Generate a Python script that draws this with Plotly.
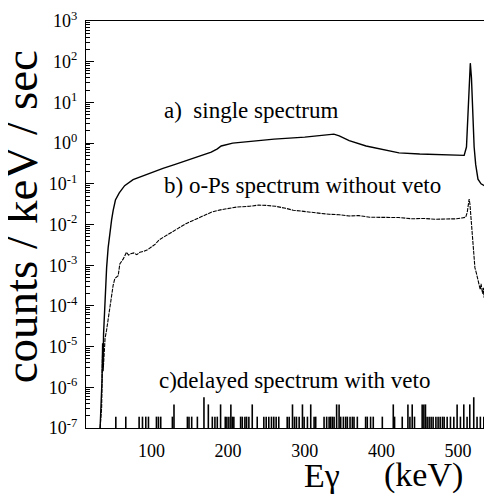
import plotly.graph_objects as go

# a) single spectrum (E in keV, counts/keV/sec)
single_E = [33, 34.5, 35.5, 36.3, 36.8, 37.5, 38.5, 39.5, 40.5, 41.5, 43.5, 45.7, 48, 50, 53, 58,
            65, 76, 90, 98, 115, 130, 145, 163, 178, 186, 191, 206, 228, 260, 300, 332, 338,
            345, 358, 380, 401.6, 423, 450, 488, 503.6, 508, 511, 513, 514.5, 516, 517.5, 519,
            521, 523, 526, 530, 536, 543]
single_V = [1e-7, 4e-7, 1.5e-6, 1.2e-5, 3e-6, 2e-5, 6e-5, 1.4e-4, 4e-4, 8.7e-4, 2.7e-3, 6.9e-3,
            1.3e-2, 2.2e-2, 4.0e-2, 6.0e-2, 9.0e-2, 0.126, 0.16, 0.186, 0.24, 0.295, 0.37, 0.47,
            0.6, 0.72, 0.85, 1.0, 1.1, 1.25, 1.4, 1.62, 1.66, 1.5, 1.15, 0.85, 0.69, 0.575, 0.54,
            0.525, 0.5, 0.5, 0.8, 5, 45, 92, 40, 5, 0.8, 0.3, 0.13, 0.1, 0.087, 0.072]

# b) o-Ps spectrum without veto
ops_E = [33, 35, 36, 36.5, 37, 38, 39.5, 41.4, 43.5, 46, 48, 50, 52.2, 54, 56.6, 58.7, 60.9, 63,
         65, 67.4, 70, 73, 77, 81, 85, 90, 95, 100, 105, 110, 118, 125, 137, 145, 152, 160, 170,
         178, 190, 200, 212, 228, 240, 250, 262, 275, 285, 295, 305, 318, 332, 345, 358, 370,
         385, 400, 415, 423, 440, 455, 470, 488, 498, 505, 510, 512, 513.5, 514.5, 515.5, 517,
         518.5, 520, 522, 524, 527, 529, 530, 532, 533, 534, 535.5, 536.5, 538, 539, 540, 541]
ops_V = [1.0e-7, 3.2e-7, 5.0e-6, 1.0e-5, 2.5e-6, 7.9e-6, 1.6e-5, 2.5e-5, 5.0e-5, 1.0e-4, 2.0e-4,
         3.2e-4, 4.7e-4, 5.0e-4, 5.5e-4, 1.07e-3, 1.29e-3, 1.41e-3, 1.66e-3, 2.09e-3, 1.78e-3,
         1.91e-3, 2.0e-3, 1.82e-3, 2.09e-3, 2.19e-3, 2.4e-3, 2.8e-3, 3.3e-3, 4.2e-3, 5.2e-3,
         6.3e-3, 8.9e-3, 1.05e-2, 1.2e-2, 1.41e-2, 1.74e-2, 2.0e-2, 2.29e-2, 2.5e-2, 2.7e-2,
         2.8e-2, 3.0e-2, 2.95e-2, 2.8e-2, 2.5e-2, 2.24e-2, 2.14e-2, 2.0e-2, 1.9e-2, 1.78e-2,
         1.74e-2, 1.62e-2, 1.66e-2, 1.51e-2, 1.48e-2, 1.45e-2, 1.48e-2, 1.38e-2, 1.41e-2,
         1.35e-2, 1.35e-2, 1.38e-2, 1.45e-2, 1.51e-2, 2.0e-2, 3.2e-2, 4.2e-2, 3.2e-2, 1.26e-2,
         5.6e-3, 2.2e-3, 8.7e-4, 6.3e-4, 3.5e-4, 2.5e-4, 3.5e-4, 2.0e-4, 2.8e-4, 1.6e-4, 2.5e-4,
         1.26e-4, 2.0e-4, 1.0e-4, 4.0e-5, 1.6e-4]

# c) delayed spectrum with veto: bar energies (keV) and counts
delay_E = [53.5, 66.5, 83.9, 88.3, 92.6, 96.1, 106.5, 109.1, 112.1, 127.3, 129.4, 146.9, 149,
           152.5, 159.9, 168.5, 174.2, 179.4, 182.8, 185.9, 190.2, 196.3, 198.4, 201, 203.6,
           205.5, 207.5, 216.3, 218.5, 221.9, 224.1, 227.1, 231.5, 238, 246.6, 249.7, 253.1,
           256.6, 259.6, 262.7, 266.1, 277.1, 279.7, 284, 286.6, 289.2, 292.7, 297, 299.2,
           303.5, 307.8, 312.2, 314.3, 325.2, 328.6, 331.8, 333.8, 336.1, 338.3, 341.6, 344.8,
           346.9, 350.4, 353.4, 355.6, 359.1, 362.1, 364.3, 368.6, 379.4, 381.6, 385.9, 389.4,
           401.2, 415.5, 417.2, 427.2, 434.6, 437.2, 440.2, 443.2, 453.2, 455.4, 457.5, 459.7,
           462.3, 464.9, 467.5, 471.1, 474, 476.7, 479.7, 481.9, 485.8, 490.1, 494.5, 498.8,
           503.1, 507.5, 511.8, 515.3, 520.5, 524.8, 529.1, 533.6, 540.1]
delay_N = [1, 1, 1, 1, 1, 1, 1, 1, 1, 1, 2, 1, 1,
           1, 1, 3, 2, 1, 1, 1, 2, 1, 1, 1, 2,
           1, 1, 1, 1, 1, 1, 1, 2, 1, 1, 1, 1,
           1, 1, 1, 1, 1, 1, 2, 1, 1, 1, 2, 1,
           1, 2, 1, 1, 1, 1, 1, 1, 1, 1, 2, 2,
           1, 1, 1, 1, 1, 1, 1, 1, 1, 1, 1, 1,
           1, 2, 1, 1, 2, 1, 2, 1, 2, 2, 2, 1,
           1, 1, 1, 1, 1, 1, 1, 1, 1, 1, 1, 2,
           1, 2, 1, 2, 3, 1, 1, 1, 1]
rate_per_count = 1.9e-7

y_tick_vals = [1e-7, 1e-6, 1e-5, 1e-4, 1e-3, 1e-2, 1e-1, 1e0, 1e1, 1e2, 1e3]
y_tick_text = ["10<sup>-7</sup>", "10<sup>-6</sup>", "10<sup>-5</sup>", "10<sup>-4</sup>",
               "10<sup>-3</sup>", "10<sup>-2</sup>", "10<sup>-1</sup>", "10<sup>0</sup>",
               "10<sup>1</sup>", "10<sup>2</sup>", "10<sup>3</sup>"]
x_tick_vals = [100, 200, 300, 400, 500]

FONT = "Liberation Serif, Times New Roman, Times, serif"

# build bar segments for delayed spectrum
bx, by = [], []
for e, n in zip(delay_E, delay_N):
    bx += [e, e, None]
    by += [1e-7, n * rate_per_count, None]

fig = go.Figure()
fig.add_trace(go.Scatter(x=bx, y=by, mode="lines", line=dict(color="black", width=1.6),
                         hoverinfo="skip", showlegend=False))
fig.add_trace(go.Scatter(x=ops_E, y=ops_V, mode="lines",
                         line=dict(color="black", width=1.1, dash="4px,1px"), showlegend=False))
fig.add_trace(go.Scatter(x=single_E, y=single_V, mode="lines",
                         line=dict(color="black", width=1.4), showlegend=False))

fig.update_layout(
    width=484, height=491,
    margin=dict(l=78, r=1, t=11, b=71),
    paper_bgcolor="white", plot_bgcolor="white",
    font=dict(family=FONT, color="black", size=18),
    xaxis=dict(range=[14.6, 543], showgrid=False, zeroline=False, showline=True,
               linecolor="black", linewidth=1.2, mirror=True, ticks="",
               tickvals=x_tick_vals, tickfont=dict(family=FONT, size=18),
               ticklabelstandoff=6),
    yaxis=dict(type="log", range=[-7, 3], showgrid=False, zeroline=False, showline=True,
               linecolor="black", linewidth=1.2, ticks="inside", ticklen=8,
               tickcolor="black", tickvals=y_tick_vals, ticktext=y_tick_text,
               tickfont=dict(family=FONT, size=18), ticklabelstandoff=4,
               ticklabeloverflow="allow",
               minor=dict(ticks="inside", ticklen=4, tickcolor="black", dtick="D1",
                          showgrid=False)),
    annotations=[
        dict(text="counts / keV / sec", x=-0.16, y=0.518, xref="paper", yref="paper",
             textangle=-90, showarrow=False, font=dict(family=FONT, size=47),
             xanchor="center", yanchor="middle"),
        dict(text="Eγ", x=(322 - 86) / 405, y=-0.116, xref="paper", yref="paper",
             showarrow=False, font=dict(family=FONT, size=34), xanchor="center",
             yanchor="middle"),
        dict(text="(keV)", x=(423 - 86) / 405, y=-0.116, xref="paper", yref="paper",
             showarrow=False, font=dict(family=FONT, size=34), xanchor="center",
             yanchor="middle"),
        dict(text="a)  single spectrum", x=(162 - 86) / 405, y=(428 - 109) / 409,
             xref="paper", yref="paper", showarrow=False, font=dict(family=FONT, size=23),
             xanchor="left", yanchor="middle"),
        dict(text="b) o-Ps spectrum without veto", x=(162 - 86) / 405, y=(428 - 184) / 409,
             xref="paper", yref="paper", showarrow=False, font=dict(family=FONT, size=23),
             xanchor="left", yanchor="middle"),
        dict(text="c)delayed spectrum with veto", x=(157 - 86) / 405, y=(428 - 380) / 409,
             xref="paper", yref="paper", showarrow=False, font=dict(family=FONT, size=23),
             xanchor="left", yanchor="middle"),
    ],
)

fig.write_html("out.html")
